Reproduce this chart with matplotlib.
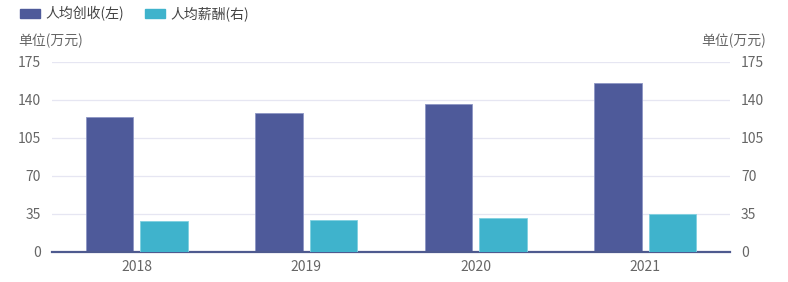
import numpy as np
import matplotlib
matplotlib.use('Agg')
from matplotlib import pyplot as plt
from matplotlib.patches import Rectangle

plt.rcParams['font.family'] = ['Noto Sans CJK SC', 'DejaVu Sans']

years = ['2018', '2019', '2020', '2021']
revenue = [124, 128, 136, 156]   # 人均创收(左)
salary = [28, 29, 30.5, 35]      # 人均薪酬(右)
series_names = ['人均创收(左)', '人均薪酬(右)']

dark = '#4e5a9a'
cyan = '#3fb3cc'
text_c = '#666666'

W, H = 788, 282
fig = plt.figure(figsize=(W / 100, H / 100), dpi=100)
ax = fig.add_axes([52 / W, 1 - 251.5 / H, (730 - 52) / W, (251.5 - 62) / H])
ax2 = ax.twinx()

x = np.arange(len(years))
bw = 0.28
gap = 0.04
ax.bar(x - bw / 2 - gap / 2, revenue, bw, color=dark, edgecolor='#8d96c4', linewidth=0.6, zorder=3)
ax2.bar(x + bw / 2 + gap / 2, salary, bw, color=cyan, edgecolor='#7fd0e0', linewidth=0.6, zorder=3)

ticks = [0, 35, 70, 105, 140, 175]
for a in (ax, ax2):
    a.set_ylim(0, 175)
    a.set_yticks(ticks)
    a.set_xlim(-0.5, 3.5)
    for s in a.spines.values():
        s.set_visible(False)
    a.tick_params(axis='y', length=0, labelsize=10, labelcolor=text_c, pad=8)
ax.grid(axis='y', color='#e6e6f2', linewidth=0.9, zorder=0)
ax.set_axisbelow(True)
ax.spines['bottom'].set_visible(True)
ax.spines['bottom'].set_color('#4e5a8f')
ax.spines['bottom'].set_linewidth(1.6)
ax.spines['bottom'].set_zorder(5)
ax.set_xticks(x)
ax.set_xticklabels(years)
ax.tick_params(axis='x', length=0, labelsize=10, labelcolor=text_c, pad=6)

# unit labels
fig.text(18 / W, 1 - 41 / H, '单位(万元)', fontsize=10, color=text_c, va='center', ha='left')
fig.text(766 / W, 1 - 41 / H, '单位(万元)', fontsize=10, color=text_c, va='center', ha='right')

# legend
for px, name, col in [(20, series_names[0], dark), (145, series_names[1], cyan)]:
    fig.patches.append(Rectangle((px / W, 1 - 18 / H), 20 / W, 9 / H, transform=fig.transFigure,
                                 color=col, figure=fig))
    fig.text((px + 25) / W, 1 - 13.5 / H, name, fontsize=10, color='#444444', va='center', ha='left')

fig.savefig('out.png', dpi=100)
